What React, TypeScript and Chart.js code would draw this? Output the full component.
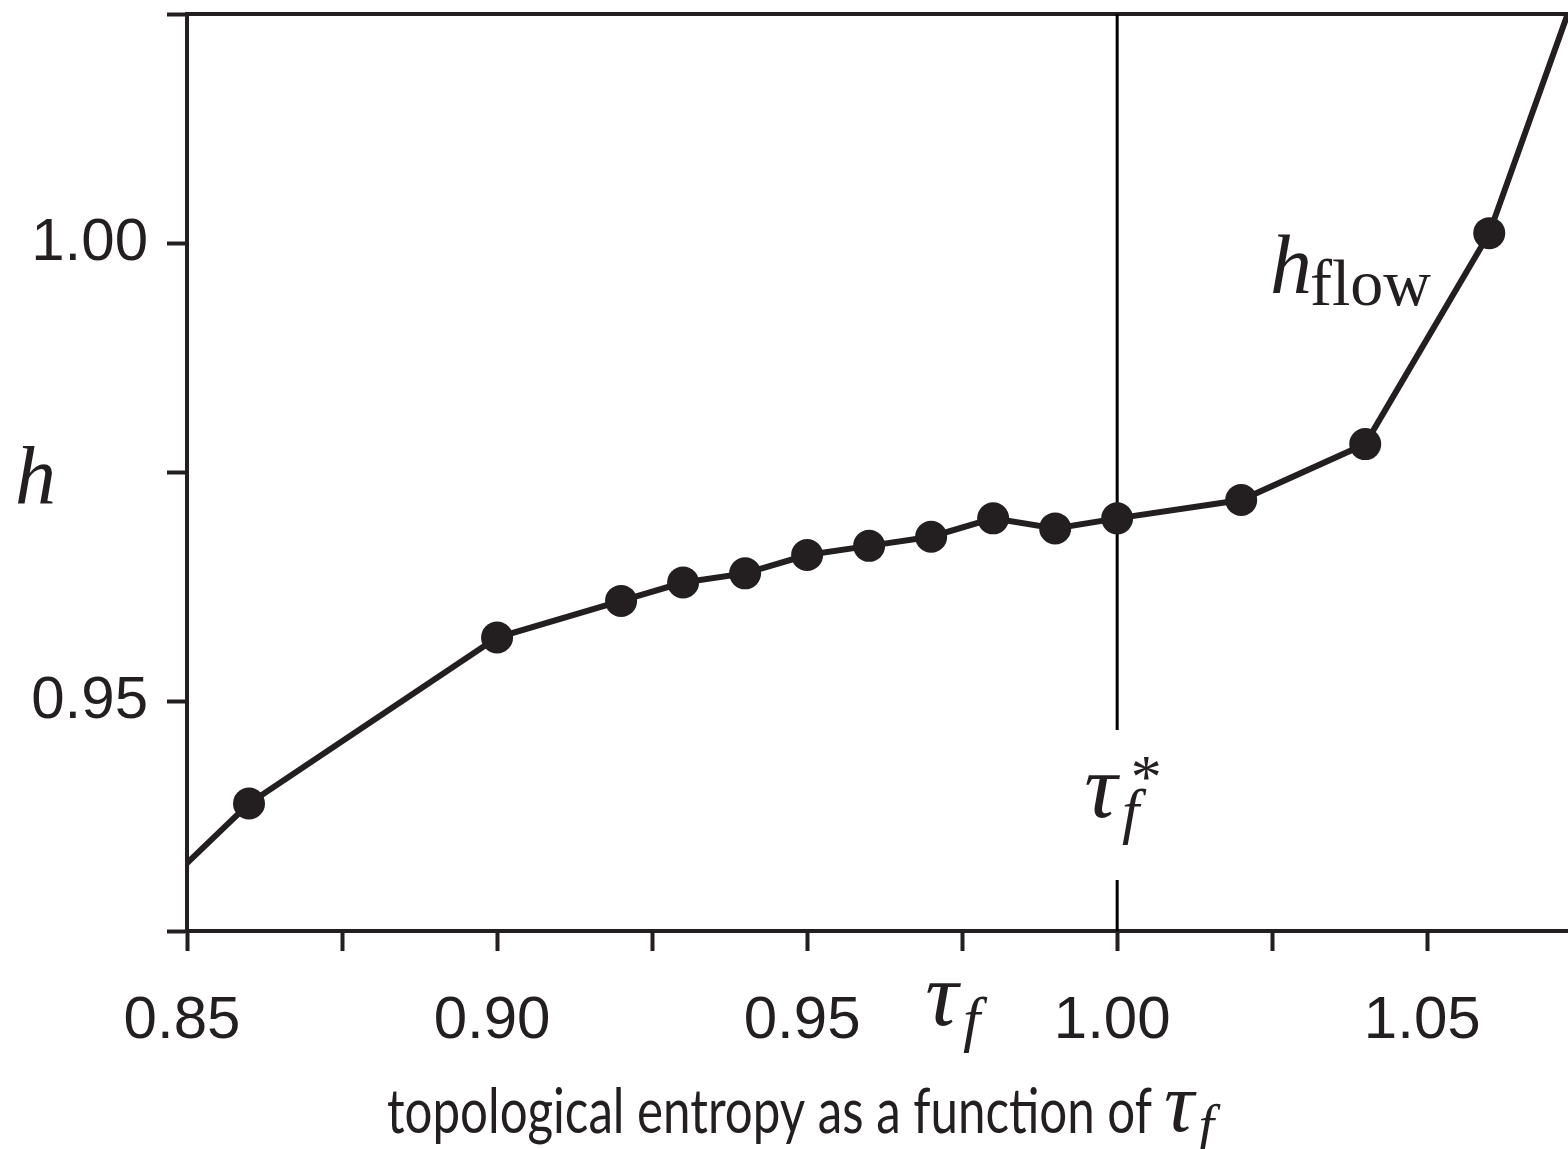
import React, { useEffect, useRef } from "react";
import { Chart, registerables } from "chart.js";

Chart.register(...registerables);

// Forcing parameter τ_f and the measured topological entropy h at each run.
const tauValues = [0.84, 0.86, 0.9, 0.92, 0.93, 0.94, 0.95, 0.96, 0.97, 0.98, 0.99, 1.0, 1.02, 1.04, 1.06, 1.08];
const entropyValues = [0.9259, 0.9389, 0.957, 0.961, 0.963, 0.964, 0.966, 0.967, 0.968, 0.97, 0.9689, 0.97, 0.972, 0.9781, 1.0011, 1.0389];

// Axis ticks and their printed labels (empty = tick mark only).
const xTickValues = [0.85, 0.875, 0.9, 0.925, 0.95, 0.975, 1.0, 1.025, 1.05];
const xTickLabels = ["0.85", "", "0.90", "", "0.95", "", "1.00", "", "1.05"];
const yTickValues = [0.925, 0.95, 0.975, 1.0, 1.025];
const yTickLabels = ["", "0.95", "", "1.00", ""];

const xLimits = [0.85, 1.0727];
const yLimits = [0.925, 1.025];

// Critical forcing value marked by the vertical line.
const criticalTau = 1.0;
// Tick positions whose labels are symbols rather than numbers.
const xSymbolTick = 0.975;
const ySymbolTick = 0.975;

const INK = "#231f20";
const SANS = '"Liberation Sans", Arial, sans-serif';
const SERIF = '"Liberation Serif", "DejaVu Serif", serif';

function labelFor(values: number[], labels: string[], v: number): string {
  let best = 0;
  for (let i = 1; i < values.length; i++) {
    if (Math.abs(values[i] - v) < Math.abs(values[best] - v)) best = i;
  }
  return Math.abs(values[best] - v) < 1e-6 ? labels[best] : "";
}

// τ with subscript f (and optional superscript star)
function drawTau(ctx: CanvasRenderingContext2D, x: number, base: number, size: number, subSize: number, star: boolean) {
  ctx.font = `italic ${size}px ${SERIF}`;
  ctx.textAlign = "left";
  ctx.textBaseline = "alphabetic";
  ctx.fillText("τ", x, base);
  const w = ctx.measureText("τ").width;
  ctx.font = `italic ${subSize}px ${SERIF}`;
  ctx.fillText("f", x + w + subSize * 0.08, base + subSize * 0.24);
  if (star) {
    ctx.font = `${subSize}px ${SERIF}`;
    ctx.fillText("*", x + w + subSize * 0.22, base - subSize * 0.32);
  }
}

const annotations = {
  id: "annotations",
  beforeDatasetsDraw(chart: any) {
    const { ctx, chartArea } = chart;
    const xs = chart.scales.x;
    ctx.save();
    ctx.strokeStyle = INK;
    ctx.lineCap = "butt";
    // upper frame edge
    ctx.lineWidth = 4;
    ctx.beginPath();
    ctx.moveTo(chartArea.left, chartArea.top);
    ctx.lineTo(chartArea.right, chartArea.top);
    ctx.stroke();
    // vertical marker at the critical value, broken around its label
    const cx = xs.getPixelForValue(criticalTau);
    ctx.strokeStyle = "#000";
    ctx.lineWidth = 3;
    ctx.beginPath();
    ctx.moveTo(cx, chartArea.top);
    ctx.lineTo(cx, chartArea.bottom - 201);
    ctx.moveTo(cx, chartArea.bottom - 51);
    ctx.lineTo(cx, chartArea.bottom);
    ctx.stroke();
    ctx.restore();
  },
  afterDraw(chart: any) {
    const { ctx } = chart;
    const xs = chart.scales.x;
    const ys = chart.scales.y;
    ctx.save();
    ctx.fillStyle = INK;

    // y-axis symbol
    ctx.font = `italic 82px ${SERIF}`;
    ctx.textAlign = "left";
    ctx.textBaseline = "alphabetic";
    ctx.fillText("h", 15, ys.getPixelForValue(ySymbolTick) + 30);

    // x-axis symbol
    drawTau(ctx, xs.getPixelForValue(xSymbolTick) - 37, 1025, 92, 62, false);

    // label of the critical value
    drawTau(ctx, xs.getPixelForValue(criticalTau) - 33, 817, 92, 62, true);

    // curve label
    ctx.font = `italic 84px ${SERIF}`;
    ctx.fillText("h", 1270, 293);
    ctx.font = `66px ${SERIF}`;
    ctx.fillText("flow", 1310, 305);

    // caption
    const caption = "topological entropy as a function of";
    ctx.font = `62px Lato, ${SANS}`;
    const natural = ctx.measureText(caption).width;
    const target = 765;
    const sx = target / natural;
    ctx.save();
    ctx.translate(387, 1133);
    ctx.scale(sx, 1);
    ctx.fillText(caption, 0, 0);
    ctx.restore();
    drawTau(ctx, 1164, 1131, 84, 56, false);

    ctx.restore();
  },
};

export default function App() {
  const canvasRef = useRef<HTMLCanvasElement | null>(null);

  useEffect(() => {
    const canvas = canvasRef.current;
    if (!canvas) return;
    const chart = new Chart(canvas, {
      type: "line",
      data: {
        datasets: [
          {
            data: tauValues.map((t, i) => ({ x: t, y: entropyValues[i] })),
            borderColor: INK,
            borderWidth: 6,
            backgroundColor: INK,
            pointBackgroundColor: INK,
            pointBorderWidth: 0,
            pointRadius: 16,
            tension: 0,
            fill: false,
            clip: 0,
          },
        ],
      },
      options: {
        responsive: false,
        animation: false,
        events: [],
        layout: { autoPadding: false, padding: { top: 14, right: 0, left: 0, bottom: 0 } },
        plugins: {
          legend: { display: false },
          title: { display: false },
          tooltip: { enabled: false },
        },
        scales: {
          x: {
            type: "linear",
            min: xLimits[0],
            max: xLimits[1],
            afterBuildTicks: (scale: any) => {
              scale.ticks = xTickValues.map((v) => ({ value: v }));
            },
            afterFit: (scale: any) => {
              scale.height = 218;
              scale.paddingLeft = 0;
              scale.paddingRight = 0;
            },
            border: { display: true, color: INK, width: 4 },
            grid: {
              drawOnChartArea: false,
              drawTicks: true,
              tickLength: 20,
              tickWidth: 4,
              tickColor: INK,
            },
            ticks: {
              autoSkip: false,
              maxRotation: 0,
              padding: 34,
              labelOffset: -5,
              color: INK,
              font: { family: SANS, size: 60 },
              callback: (value: any) => labelFor(xTickValues, xTickLabels, Number(value)),
            },
          },
          y: {
            type: "linear",
            min: yLimits[0],
            max: yLimits[1],
            afterBuildTicks: (scale: any) => {
              scale.ticks = yTickValues.map((v) => ({ value: v }));
            },
            afterFit: (scale: any) => {
              scale.width = 187;
              scale.paddingTop = 0;
              scale.paddingBottom = 0;
            },
            border: { display: true, color: INK, width: 4 },
            grid: {
              drawOnChartArea: false,
              drawTicks: true,
              tickLength: 20,
              tickWidth: 4,
              tickColor: INK,
            },
            ticks: {
              autoSkip: false,
              padding: 19,
              color: INK,
              font: { family: SANS, size: 60 },
              callback: (value: any) => labelFor(yTickValues, yTickLabels, Number(value)),
            },
          },
        },
      },
      plugins: [annotations],
    });
    return () => chart.destroy();
  }, []);

  return (
    <div style={{ position: "absolute", left: 0, top: 0, width: 1568, height: 1149, background: "#fff" }}>
      <canvas ref={canvasRef} width={1568} height={1149} style={{ display: "block" }} />
    </div>
  );
}
